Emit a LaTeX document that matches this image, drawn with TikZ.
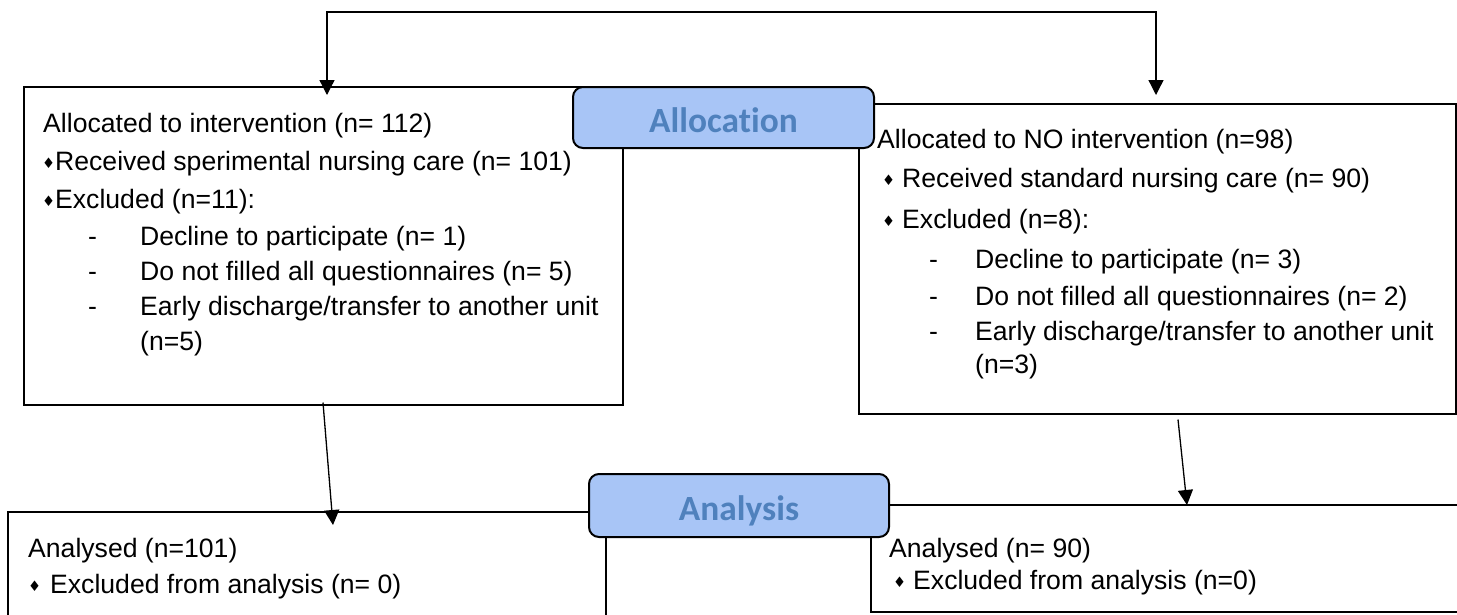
\documentclass[tikz,border=0pt]{standalone}
\usepackage{fontspec}
\setmainfont{Liberation Sans}
\newfontfamily\badgefont[Ligatures={NoCommon,NoRequired,NoContextual}]{Carlito}
\newfontfamily\dmdfont{DejaVu Sans}
\usetikzlibrary{arrows.meta,calc}
\definecolor{badgefill}{RGB}{168,197,246}
\definecolor{badgetext}{RGB}{79,129,189}

\begin{document}
\begin{tikzpicture}[x=1pt,y=-1pt,
		box/.style={rectangle, draw, line width=1.5pt, anchor=north west, inner sep=0pt},
		badge/.style={rectangle, draw, line width=2pt, rounded corners=10pt, fill=badgefill, text=badgetext, font=\badgefont\bfseries\fontsize{35.4}{40}\selectfont, minimum width=301pt, minimum height=61pt, inner sep=0pt, text height=30pt, text depth=0pt},
		txt/.style={anchor=base west, inner sep=0pt, font=\fontsize{26.6}{30}\selectfont},
		dmd/.style={anchor=base west, inner sep=0pt, yshift=1.5pt, font=\dmdfont\fontsize{14.5}{15}\selectfont},
		arr/.style={-{Triangle[length=15pt,width=15pt]}, line width=1.3pt}]
				\clip (0,0) rectangle (1457,614);
				
				% Draw boxes
				\node[box, minimum width=599pt, minimum height=318pt] (armA) at (23,86) {};
				\node[box, minimum width=597pt, minimum height=310pt] (armB) at (858,103) {};
				\node[box, minimum width=598pt, minimum height=130pt] (anaA) at (7,511) {};
				\node[box, minimum width=620pt, minimum height=107pt] (anaB) at (870,504) {};
				
				% Intervention arm
				\node[txt] (a1) at ($(armA.north west)+(20,46)$) {Allocated to intervention (n= 112)};
				\node[dmd] (da2) at ($(armA.north west)+(19,84)$) {♦};
				\node[txt] (a2) at ($(armA.north west)+(32,84)$) {Received sperimental nursing care (n= 101)};
				\node[dmd] (da3) at ($(armA.north west)+(19,122)$) {♦};
				\node[txt] (a3) at ($(armA.north west)+(32,122)$) {Excluded (n=11):};
				\node[txt] (ha4) at ($(armA.north west)+(65,159)$) {-};
				\node[txt] (a4) at ($(armA.north west)+(117,159)$) {Decline to participate (n= 1)};
				\node[txt] (ha5) at ($(armA.north west)+(65,194)$) {-};
				\node[txt] (a5) at ($(armA.north west)+(117,194)$) {Do not filled all questionnaires (n= 5)};
				\node[txt] (ha6) at ($(armA.north west)+(65,229)$) {-};
				\node[txt] (a6) at ($(armA.north west)+(117,229)$) {Early discharge/transfer to another unit};
				\node[txt] (a7) at ($(armA.north west)+(117,264)$) {(n=5)};
				
				% No intervention arm
				\node[txt] (b1) at ($(armB.north west)+(19,45)$) {Allocated to NO intervention (n=98)};
				\node[dmd] (db2) at ($(armB.north west)+(24,84)$) {♦};
				\node[txt] (b2) at ($(armB.north west)+(44,84)$) {Received standard nursing care (n= 90)};
				\node[dmd] (db3) at ($(armB.north west)+(24,125)$) {♦};
				\node[txt] (b3) at ($(armB.north west)+(44,125)$) {Excluded (n=8):};
				\node[txt] (hb4) at ($(armB.north west)+(71,165)$) {-};
				\node[txt] (b4) at ($(armB.north west)+(117,165)$) {Decline to participate (n= 3)};
				\node[txt] (hb5) at ($(armB.north west)+(71,202)$) {-};
				\node[txt] (b5) at ($(armB.north west)+(117,202)$) {Do not filled all questionnaires (n= 2)};
				\node[txt] (hb6) at ($(armB.north west)+(71,237)$) {-};
				\node[txt] (b6) at ($(armB.north west)+(117,237)$) {Early discharge/transfer to another unit};
				\node[txt] (b7) at ($(armB.north west)+(117,270)$) {(n=3)};
				
				% Analysis boxes
				\node[txt] (c1) at ($(anaA.north west)+(21,46)$) {Analysed (n=101)};
				\node[dmd] (dc2) at ($(anaA.north west)+(21,82)$) {♦};
				\node[txt] (c2) at ($(anaA.north west)+(43,82)$) {Excluded from analysis (n= 0)};
				\node[txt] (e1) at ($(anaB.north west)+(19,53)$) {Analysed (n= 90)};
				\node[dmd] (de2) at ($(anaB.north west)+(23,85)$) {♦};
				\node[txt] (e2) at ($(anaB.north west)+(43,85)$) {Excluded from analysis (n=0)};
				
				% Arrows
				\coordinate (split) at (740,12);
				\coordinate (inA) at ($(armA.north west)+(304,9)$);
				\coordinate (inB) at ($(armB.north west)+(298,-8)$);
				\draw[arr] (split) -| (inA);
				\draw[arr] (split) -| (inB);
				\draw[arr] ($(armA.south west)+(300,-3)$) -- ($(anaA.north west)+(326,14)$);
				\draw[arr] ($(armB.south west)+(320,5)$) -- ($(anaB.north west)+(317,1)$);
				
				% Stage labels
				\node[badge] (alloc) at (723.5,117.5) {Allocation};
				\node[badge, minimum width=300pt, minimum height=63pt] (analysis) at (739,505.5) {Analysis};
				
			\end{tikzpicture}
\end{document}
